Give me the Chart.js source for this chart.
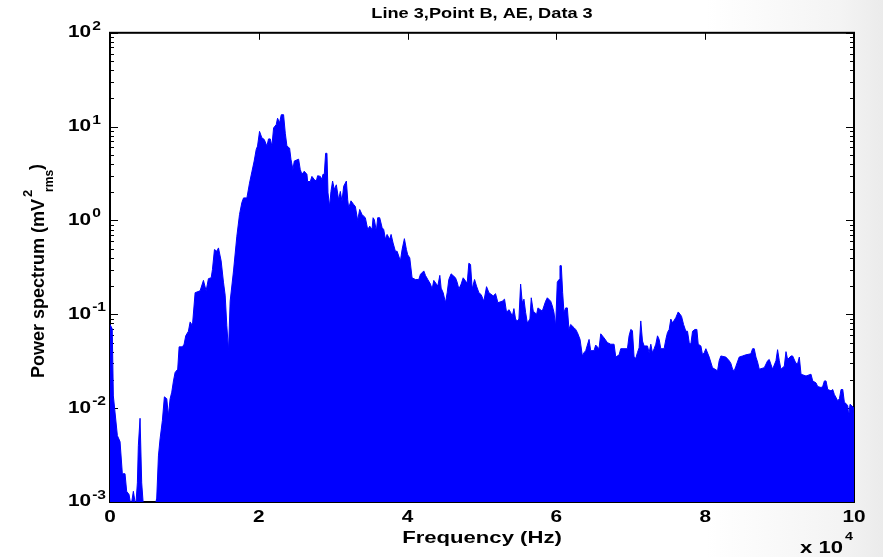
<!DOCTYPE html>
<html>
<head>
<meta charset="utf-8">
<script src="https://cdn.jsdelivr.net/npm/chart.js@4.4.1/dist/chart.umd.min.js"></script>
<style>
html,body{margin:0;padding:0;}
body{width:883px;height:557px;overflow:hidden;background:linear-gradient(to right,#ffffff 0%,#ffffff 80%,#f4f4f4 95%,#ebebeb 100%);}
canvas{display:block;}
</style>
</head>
<body>
<canvas id="c" width="883" height="557"></canvas>
<script>
// ---------- texts ----------
const chartTitle = 'Line 3,Point B, AE, Data 3';
const xAxisTitle = 'Frequency (Hz)';
const yAxisTitleMain = 'Power spectrum (mV';
const yAxisTitleSup = '2';
const yAxisTitleSub = 'rms';
const xScaleNote = 'x 10';
const xScaleNoteExp = '4';

// ---------- ticks ----------
const xTickValues = [0, 20000, 40000, 60000, 80000, 100000];
const xTickLabels = ['0', '2', '4', '6', '8', '10'];
const yTickValues = [1e-3, 1e-2, 1e-1, 1, 10, 100];
const yTickBase = '10';
const yTickExponents = ['-3', '-2', '-1', '0', '1', '2'];

// ---------- data (envelope of the spectrum) ----------
const freqHz = [
0,300,450,670,990,1350,1660,2020,2240,2560,2830,3140,3460,3680,3810,4040,4260,4490,6060,6280,
6510,6730,7040,7310,7630,7850,8080,8300,8530,8750,9100,9290,9740,9960,10180,10540,10770,11080,11440,12110,
12560,12920,13230,13600,13770,14040,14360,14580,14940,15250,15480,15700,15930,16150,16600,17050,17410,17720,17950,18400,
18750,19070,19380,19650,19830,20100,20410,20730,21090,21310,21540,21760,21990,22340,22520,22790,23020,23330,23560,23780,
24140,24320,24590,24770,25350,25570,25800,26110,26470,26560,26920,27140,27460,27730,27910,28270,28490,28620,28800,28980,
29160,29300,29520,29700,29920,30150,30420,30730,30960,31180,31410,31770,31950,32080,32390,32750,32980,33290,33560,33870,
34100,34320,34640,34910,35220,35360,35530,35800,35980,36250,36570,36790,37020,37240,37600,37780,38050,38360,38590,39030,
39260,39570,39840,40020,40290,40600,41050,41500,41730,42180,42400,42710,43070,43300,43520,44060,44330,44510,44780,45090,
45320,45540,45850,46440,46660,46890,47200,47470,48010,48230,48460,48680,49000,49260,49580,49890,50250,50610,50930,51510,
51820,52140,52720,53030,53300,53620,53840,54070,54290,54510,54740,54960,55190,55410,55640,55860,56090,56440,56620,56890,
57340,57520,58100,58550,58780,59230,59450,59670,59900,60120,60350,60480,60660,60840,61020,61250,61470,61690,61920,62370,
62590,62820,63180,63490,63710,63940,64390,64610,65060,65280,65730,65960,66410,66850,67300,67750,67980,68430,68650,69550,
69770,70000,70220,70440,70670,70890,71120,71340,71570,71790,72240,72460,72690,72910,73140,73360,73590,73810,74030,74480,
74710,74930,75160,75380,75610,76050,76370,76640,76820,77090,77400,77620,77850,78070,78300,78610,78880,79060,79420,79640,
79870,80090,80540,80980,81660,81880,82110,82780,83230,83450,83680,83900,84130,84570,85020,85470,86140,86370,86590,86820,
87040,87270,87940,88390,88610,89060,89510,89730,89960,90180,90630,90860,91080,91530,91750,92200,92430,92650,92880,93550,
94220,94450,94890,95120,95570,95790,96020,96240,96470,96910,97140,97360,97810,98040,98260,98490,98710,98930,99160,99290,
99470,99920,100000
];
const powerMv2 = [
0.078,0.07,0.0135,0.0091,0.0051,0.0044,0.0020,0.0020,0.0013,0.0012,0.0009,0.0013,0.0009,0.0016,0.0040,0.0078,0.0016,0.0009,0.0009,0.0011,
0.0031,0.0047,0.0074,0.0132,0.0126,0.0083,0.0126,0.0148,0.0195,0.024,0.026,0.045,0.045,0.048,0.059,0.066,0.083,0.076,0.17,0.178,
0.23,0.178,0.24,0.245,0.30,0.49,0.47,0.51,0.37,0.22,0.16,0.076,0.041,0.138,0.29,0.68,1.16,1.55,1.74,1.74,
2.5,3.3,4.3,5.7,6.2,8.9,7.6,7.3,6.2,7.4,7.4,6.2,9.7,10.5,12.3,11.0,13.4,13.4,8.5,6.2,
5.9,4.5,3.5,4.3,4.5,3.5,3.1,3.35,3.1,2.6,2.6,2.95,2.73,2.63,3.0,2.95,2.73,3.1,3.1,5.2,
5.2,1.97,1.41,2.04,2.63,2.14,2.4,1.66,2.04,1.6,2.32,2.63,1.66,1.36,1.62,1.48,1.41,1.0,1.31,1.16,
1.11,1.07,0.80,0.87,0.80,1.07,1.02,0.77,1.07,1.07,0.84,0.80,0.63,0.71,0.63,0.71,0.575,0.47,0.47,0.37,
0.49,0.64,0.49,0.43,0.40,0.245,0.235,0.235,0.267,0.29,0.26,0.235,0.21,0.186,0.23,0.20,0.26,0.19,0.17,0.133,
0.17,0.235,0.27,0.245,0.22,0.186,0.21,0.245,0.214,0.35,0.34,0.186,0.235,0.20,0.17,0.162,0.138,0.197,0.17,0.157,
0.166,0.133,0.138,0.145,0.105,0.112,0.105,0.095,0.115,0.089,0.085,0.089,0.21,0.133,0.145,0.105,0.081,0.089,0.15,0.108,
0.10,0.117,0.108,0.138,0.15,0.138,0.123,0.105,0.075,0.22,0.235,0.33,0.33,0.17,0.105,0.117,0.117,0.069,0.078,0.072,
0.069,0.064,0.054,0.036,0.039,0.041,0.054,0.041,0.041,0.047,0.043,0.062,0.056,0.050,0.048,0.048,0.035,0.037,0.043,0.043,
0.059,0.069,0.067,0.035,0.034,0.039,0.044,0.085,0.052,0.046,0.046,0.039,0.048,0.039,0.043,0.048,0.059,0.054,0.043,0.043,
0.054,0.064,0.069,0.089,0.081,0.092,0.106,0.10,0.095,0.078,0.066,0.066,0.050,0.048,0.066,0.069,0.069,0.048,0.046,0.037,
0.039,0.043,0.035,0.027,0.025,0.032,0.036,0.035,0.032,0.030,0.026,0.025,0.028,0.035,0.036,0.037,0.038,0.043,0.043,0.035,
0.031,0.026,0.027,0.032,0.033,0.026,0.032,0.042,0.032,0.026,0.028,0.040,0.033,0.036,0.036,0.030,0.030,0.035,0.023,0.022,
0.023,0.0195,0.0186,0.017,0.0166,0.017,0.0195,0.0195,0.0158,0.0153,0.0158,0.014,0.012,0.0126,0.0158,0.0158,0.0115,0.0112,0.0106,0.0083,
0.011,0.0102,0.0087
];

// ---------- text rendering (the reference text is horizontally wide) ----------
const TEXT_SX = 1.3;
const proto = CanvasRenderingContext2D.prototype;
const rawFillText = proto.fillText;
proto.fillText = function (text, x, y, maxWidth) {
  this.save();
  this.translate(x, y);
  this.scale(TEXT_SX, 1);
  if (maxWidth === undefined || maxWidth === null) rawFillText.call(this, text, 0, 0);
  else rawFillText.call(this, text, 0, 0, maxWidth / TEXT_SX);
  this.restore();
};

const FONT = '"Liberation Sans", Arial, Helvetica, sans-serif';
Chart.defaults.color = '#000';
Chart.defaults.font.family = FONT;

const matlabAxes = {
  id: 'matlabAxes',
  beforeDraw(chart) {
    const { ctx, chartArea: a } = chart;
    ctx.save();
    ctx.fillStyle = '#ffffff';
    ctx.fillRect(a.left, a.top, a.right - a.left, a.bottom - a.top);
    ctx.restore();
  },
  beforeDatasetsDraw(chart) {
    const { ctx, chartArea: a, scales } = chart;
    const ys = scales.y, xs = scales.x;
    ctx.save();
    ctx.strokeStyle = '#000';
    ctx.lineWidth = 2;
    ctx.strokeRect(a.left, a.top, a.right - a.left, a.bottom - a.top);
    ctx.lineWidth = 1;
    ctx.beginPath();
    for (let e = -3; e <= 2; e++) {
      for (let m = 1; m <= 9; m++) {
        const v = m * Math.pow(10, e);
        if (v > 100.0001) break;
        const y = Math.round(ys.getPixelForValue(v)) + 0.5;
        const len = m === 1 ? 8 : 4;
        ctx.moveTo(a.left, y); ctx.lineTo(a.left + len, y);
        ctx.moveTo(a.right, y); ctx.lineTo(a.right - len, y);
      }
    }
    xTickValues.forEach(v => {
      const x = Math.round(xs.getPixelForValue(v)) + 0.5;
      ctx.moveTo(x, a.top); ctx.lineTo(x, a.top + 7);
      ctx.moveTo(x, a.bottom); ctx.lineTo(x, a.bottom - 7);
    });
    ctx.stroke();
    ctx.restore();
  },
  afterDraw(chart) {
    const { ctx, scales } = chart;
    const ys = scales.y;

    // exponents of the y tick labels
    ctx.save();
    ctx.fillStyle = '#000';
    ctx.textAlign = 'left';
    ctx.textBaseline = 'alphabetic';
    ctx.font = 'bold 16px ' + FONT;
    const baseW = ctx.measureText(yTickBase).width * TEXT_SX;
    ctx.font = 'bold 12px ' + FONT;
    yTickValues.forEach((v, i) => {
      const y = ys.getPixelForValue(v);
      ctx.fillText(yTickExponents[i], 68 + baseW + 1, y - 3);
    });
    ctx.restore();

    // y axis title with superscript / subscript
    ctx.save();
    ctx.fillStyle = '#000';
    ctx.translate(44, 378);
    ctx.rotate(-Math.PI / 2);
    ctx.textAlign = 'left';
    ctx.textBaseline = 'alphabetic';
    ctx.font = 'bold 18px ' + FONT;
    rawFillText.call(ctx, yAxisTitleMain, 0, 0);
    const w = ctx.measureText(yAxisTitleMain).width;
    ctx.font = 'bold 13px ' + FONT;
    rawFillText.call(ctx, yAxisTitleSup, w + 2, -12);
    ctx.font = 'bold 12px ' + FONT;
    rawFillText.call(ctx, yAxisTitleSub, w + 7, 9);
    const w2 = ctx.measureText(yAxisTitleSub).width;
    ctx.font = 'bold 18px ' + FONT;
    rawFillText.call(ctx, ')', w + 7 + w2, -2);
    ctx.restore();

    // x scale multiplier
    ctx.save();
    ctx.fillStyle = '#000';
    ctx.textAlign = 'left';
    ctx.textBaseline = 'alphabetic';
    ctx.font = 'bold 17px ' + FONT;
    ctx.fillText(xScaleNote, 800, 553);
    ctx.font = 'bold 11px ' + FONT;
    ctx.fillText(xScaleNoteExp, 845, 540);
    ctx.restore();
  }
};

new Chart(document.getElementById('c').getContext('2d'), {
  type: 'line',
  data: {
    datasets: [{
      data: freqHz.map((f, i) => ({ x: f, y: powerMv2[i] })),
      borderColor: '#0000ff',
      backgroundColor: '#0000ff',
      borderWidth: 1,
      pointRadius: 0,
      tension: 0,
      fill: 'start'
    }]
  },
  options: {
    responsive: false,
    animation: false,
    events: [],
    layout: { padding: { left: 68, right: 29, top: 0, bottom: 0 } },
    plugins: {
      legend: { display: false },
      tooltip: { enabled: false },
      title: {
        display: true,
        text: chartTitle,
        fullSize: false,
        color: '#000',
        font: { size: 14, weight: 'bold', family: FONT },
        padding: { top: 6, bottom: 10 }
      }
    },
    scales: {
      x: {
        type: 'linear',
        min: 0,
        max: 100000,
        afterBuildTicks: s => { s.ticks = xTickValues.map(v => ({ value: v })); },
        ticks: {
          autoSkip: false,
          maxRotation: 0,
          padding: 6,
          color: '#000',
          font: { size: 16, weight: 'bold', family: FONT },
          callback: v => xTickLabels[xTickValues.indexOf(v)]
        },
        grid: { display: false, drawTicks: false },
        border: { display: false },
        title: {
          display: true,
          text: xAxisTitle,
          color: '#000',
          font: { size: 17, weight: 'bold', family: FONT },
          padding: { top: 0, bottom: 8 }
        },
        afterFit: s => { s.height = 55; }
      },
      y: {
        type: 'logarithmic',
        min: 1e-3,
        max: 100,
        afterBuildTicks: s => { s.ticks = yTickValues.map(v => ({ value: v })); },
        ticks: {
          autoSkip: false,
          crossAlign: 'far',
          color: '#000',
          font: { size: 16, weight: 'bold', family: FONT },
          callback: v => {
            const i = yTickValues.findIndex(t => Math.abs(t - v) / t < 1e-6);
            return i >= 0 ? yTickBase : '';
          }
        },
        grid: { display: false, drawTicks: false },
        border: { display: false },
        afterFit: s => { s.width = 42; }
      }
    }
  },
  plugins: [matlabAxes]
});
</script>
</body>
</html>
